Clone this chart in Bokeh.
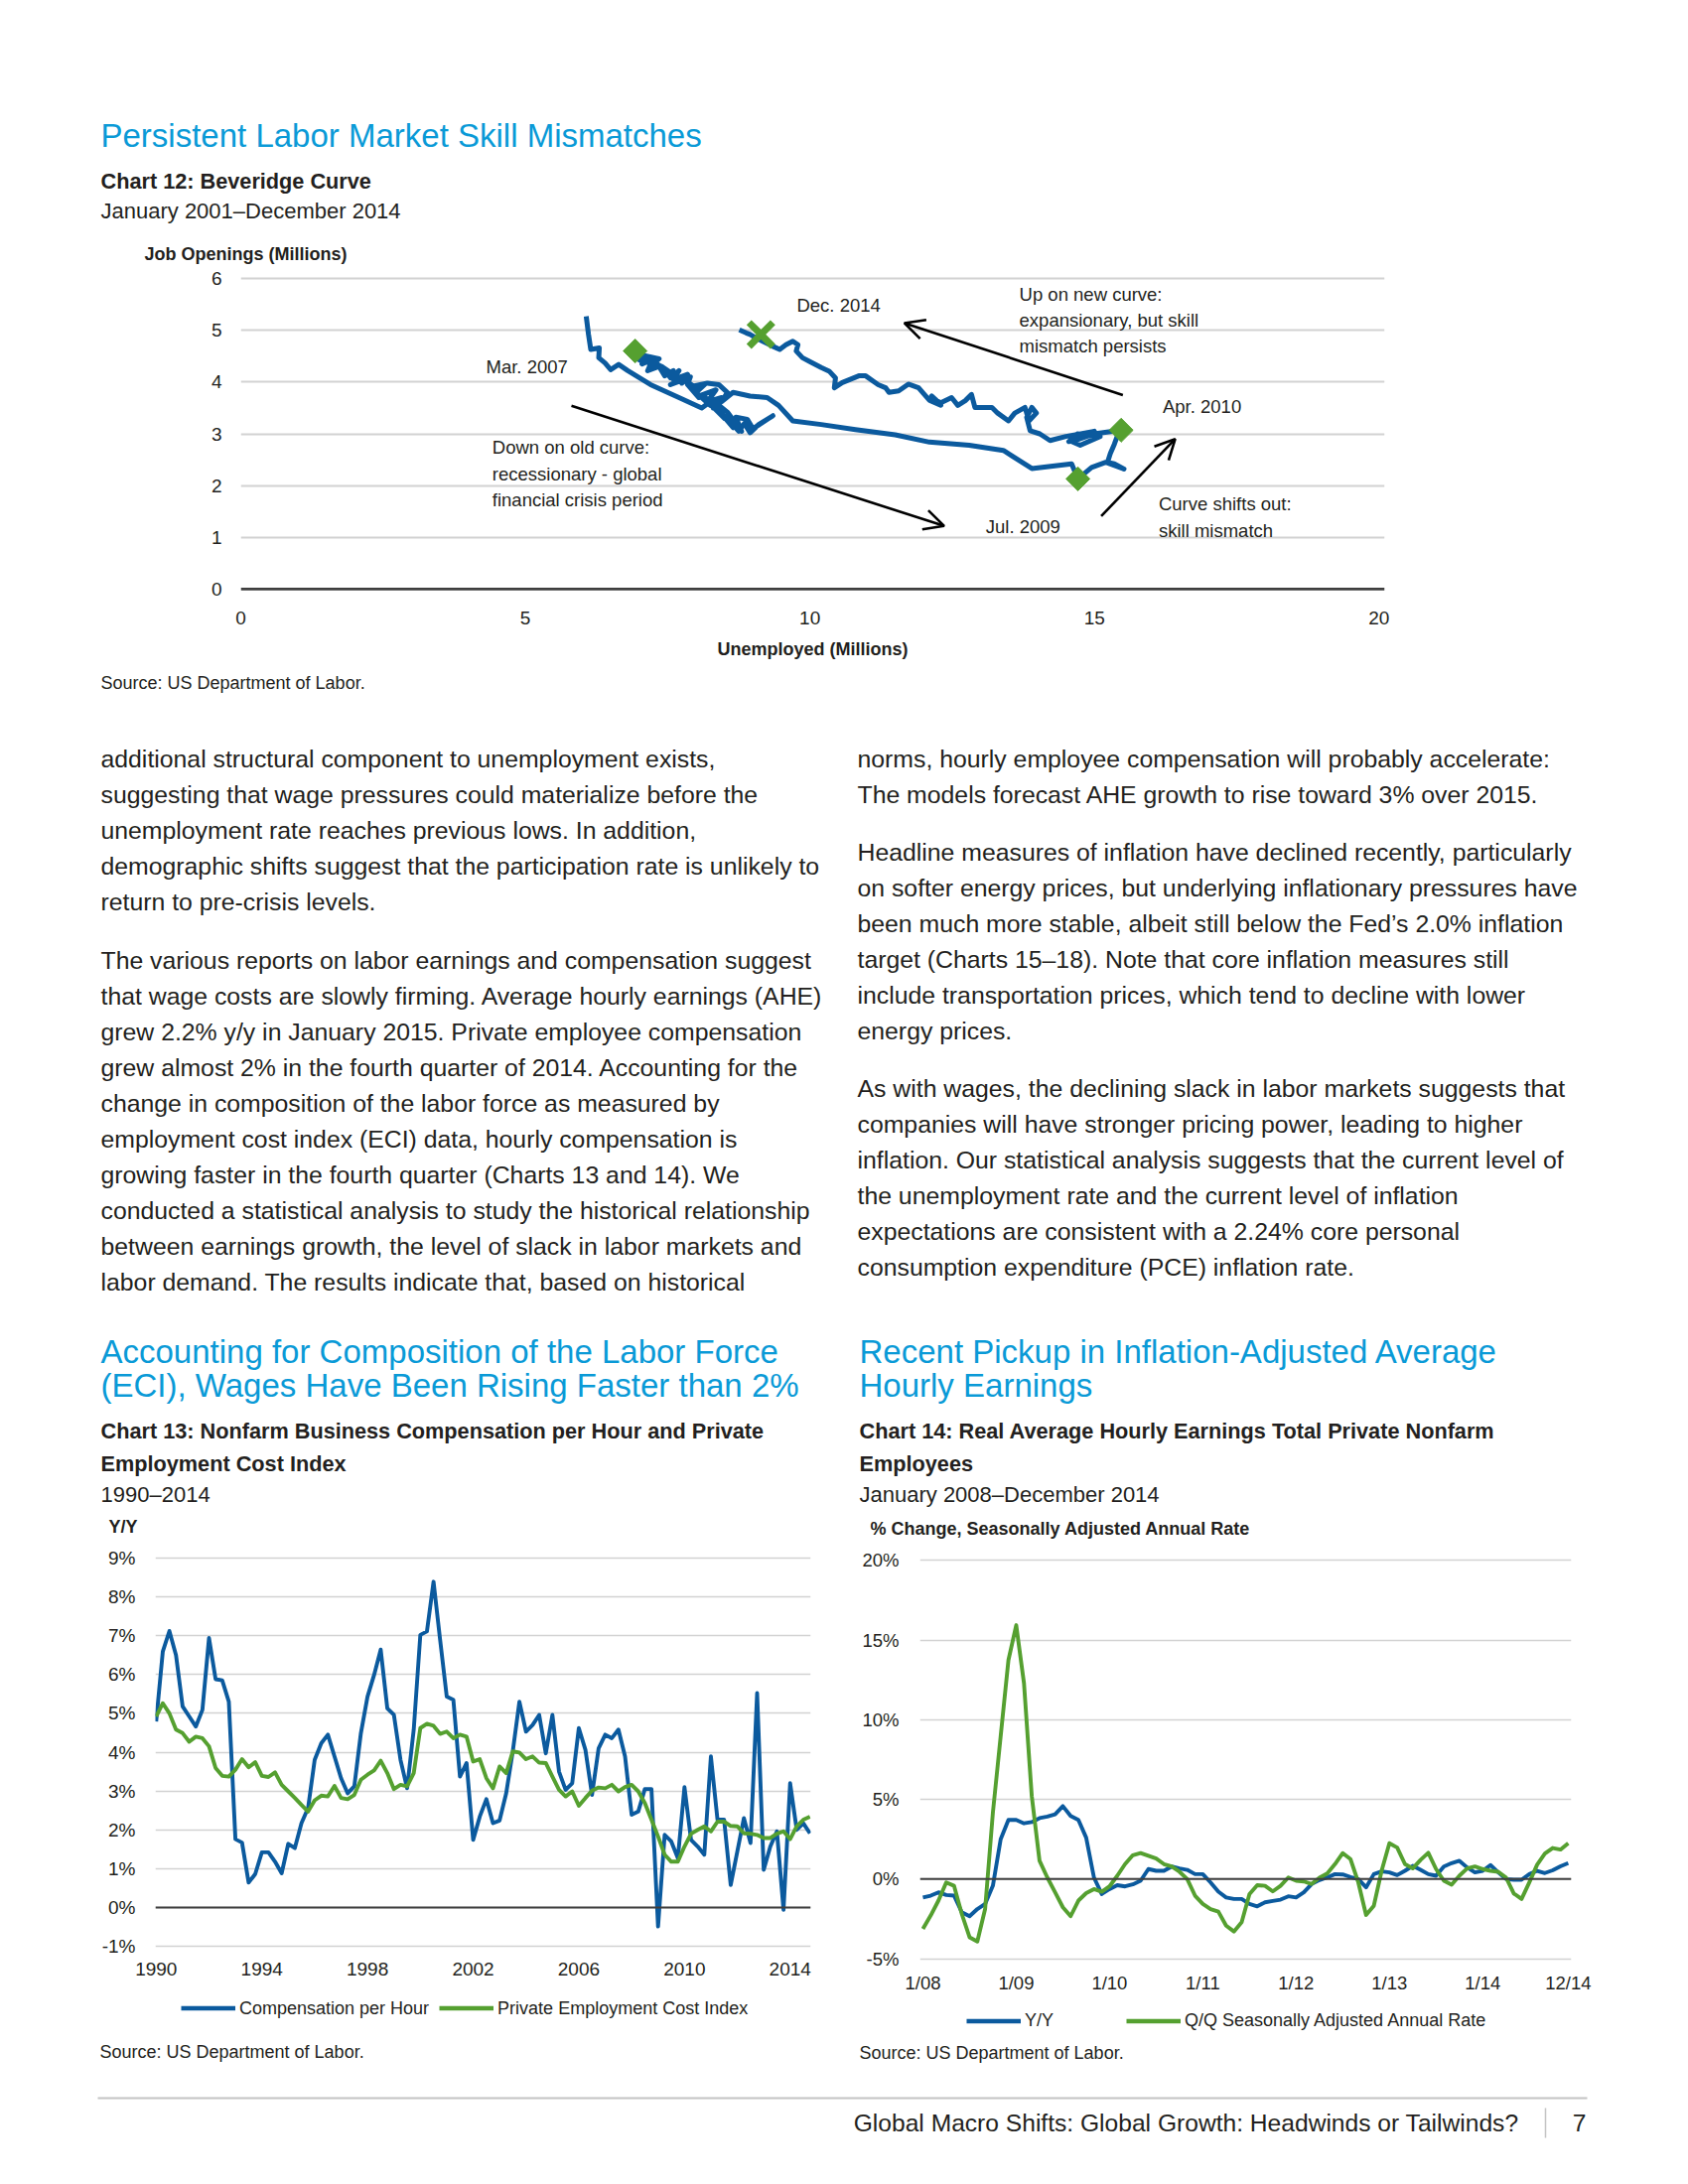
import numpy as np
from bokeh.plotting import figure
from bokeh.models import Range1d, FixedTicker, Span, Arrow, OpenHead, Legend, LegendItem, Spacer
from bokeh.layouts import column, row
from bokeh.embed import file_html
from bokeh.resources import INLINE
from bokeh.core.properties import value

# ---------------------------------------------------------------- data
# Chart 12: Beveridge curve, monthly Jan 2001 - Dec 2014 (millions)
bev_unemployed = [
    6.07, 6.11, 6.15, 6.30, 6.29, 6.40, 6.50, 6.64, 6.80, 7.20, 7.70, 8.10,      # 2001
    8.25, 8.10, 8.35, 8.45, 8.30, 8.50, 8.40, 8.20, 8.45, 8.60, 8.40, 8.65,      # 2002
    8.55, 8.75, 8.85, 8.95, 9.10, 9.35, 9.00, 8.90, 8.70, 8.80, 8.55, 8.40,      # 2003
    8.30, 8.45, 8.20, 8.35, 8.10, 8.25, 8.00, 8.15, 7.95, 8.05, 7.85, 7.90,      # 2004
    7.75, 7.85, 7.60, 7.70, 7.55, 7.45, 7.60, 7.40, 7.50, 7.30, 7.45, 7.25,      # 2005
    7.20, 7.35, 7.05, 7.15, 6.95, 7.10, 7.05, 7.20, 7.00, 6.90, 7.05, 6.95,      # 2006
    7.05, 6.98, 6.93, 7.05, 7.20, 7.15, 7.35, 7.45, 7.60, 7.70, 7.55, 7.80,      # 2007
    7.95, 8.20, 8.40, 8.55, 8.45, 8.65, 8.95, 9.25, 9.45, 9.70, 10.20, 10.80,    # 2008
    11.50, 12.10, 12.80, 13.40, 13.90, 14.60, 14.71, 14.95, 15.20, 15.52, 15.35, 15.23,  # 2009
    15.28, 15.35, 15.40, 15.47, 15.00, 14.60, 14.75, 15.10, 14.70, 14.55, 15.00, 14.50,  # 2010
    14.22, 14.04, 13.87, 13.81, 13.90, 13.98, 13.85, 13.78, 13.60, 13.49, 13.30, 13.20,  # 2011
    12.90, 12.84, 12.73, 12.60, 12.49, 12.30, 12.23, 12.14, 12.30, 12.10, 11.91, 11.73,  # 2012
    11.56, 11.39, 11.33, 11.20, 10.98, 10.86, 10.57, 10.43, 10.45, 10.34, 10.20, 9.99,   # 2013
    9.87, 9.76, 9.79, 9.70, 9.58, 9.47, 9.35, 9.17, 9.06, 8.95, 8.88, 8.76,              # 2014
]
bev_openings = [
    5.27, 4.92, 4.63, 4.66, 4.47, 4.37, 4.24, 4.34, 4.22, 3.95, 3.70, 3.50,
    3.62, 3.75, 3.55, 3.40, 3.52, 3.30, 3.48, 3.62, 3.38, 3.22, 3.45, 3.12,
    3.30, 3.05, 3.20, 3.02, 3.18, 3.35, 3.10, 3.28, 3.32, 3.05, 3.42, 3.55,
    3.50, 3.70, 3.62, 3.85, 3.75, 3.55, 3.80, 3.95, 3.85, 3.70, 3.95, 4.10,
    3.98, 4.15, 4.05, 4.22, 4.08, 4.25, 4.15, 4.30, 4.18, 4.35, 4.25, 4.40,
    4.30, 4.45, 4.52, 4.40, 4.55, 4.45, 4.35, 4.42, 4.55, 4.50, 4.40, 4.58,
    4.52, 4.48, 4.60, 4.45, 4.35, 4.22, 4.30, 4.12, 4.22, 4.02, 3.95, 4.05,
    3.92, 3.98, 3.95, 3.80, 3.62, 3.80, 3.73, 3.70, 3.55, 3.25, 3.18, 3.08,
    2.98, 2.84, 2.78, 2.68, 2.33, 2.42, 2.13, 2.35, 2.45, 2.32, 2.42, 2.45,
    2.62, 2.80, 2.95, 3.07, 3.00, 2.85, 2.78, 2.95, 3.00, 2.85, 3.05, 2.95,
    2.87, 3.00, 3.06, 3.32, 3.51, 3.40, 3.25, 3.51, 3.40, 3.25, 3.40, 3.51,
    3.51, 3.76, 3.64, 3.55, 3.70, 3.60, 3.64, 3.73, 3.55, 3.65, 3.89, 3.96,
    3.83, 3.80, 3.89, 3.95, 4.12, 4.12, 3.99, 3.89, 4.08, 4.21, 4.28, 4.40,
    4.47, 4.60, 4.72, 4.79, 4.72, 4.63, 4.69, 4.79, 4.85, 4.92, 4.95, 5.01,
]
bev_marker_labels = ["Mar. 2007", "Jul. 2009", "Apr. 2010"]
bev_marker_index = [74, 102, 111]
dec14_unemployed = [9.14]
dec14_openings = [4.92]
bev_xticks = [0, 5, 10, 15, 20]
bev_yticks = [0, 1, 2, 3, 4, 5, 6]

# Chart 13: quarterly 1990Q1 - 2014Q4, % y/y
c13_years = list(range(1990, 2015))
comp_per_hour = [
    4.79, 6.59, 7.12, 6.50, 5.18, 4.92, 4.66, 5.09, 6.94, 5.88, 5.85, 5.30,
    1.76, 1.67, 0.64, 0.86, 1.42, 1.42, 1.18, 0.88, 1.64, 1.53, 2.17, 2.56,
    3.80, 4.23, 4.45, 3.89, 3.33, 2.94, 3.12, 4.49, 5.43, 5.99, 6.64, 5.13,
    4.96, 3.80, 3.07, 4.58, 7.02, 7.11, 8.39, 6.89, 5.43, 5.35, 3.37, 3.72,
    1.74, 2.34, 2.79, 2.17, 2.24, 2.94, 4.02, 5.30, 4.53, 4.70, 4.96, 3.97,
    4.96, 3.50, 3.03, 3.20, 4.62, 4.06, 2.90, 4.10, 4.45, 4.36, 4.58, 3.89,
    2.39, 2.47, 3.05, 3.05, -0.49, 1.87, 1.70, 1.27, 3.10, 1.74, 1.57, 1.36,
    3.89, 2.26, 2.26, 0.58, 1.44, 2.30, 1.66, 5.52, 0.97, 1.57, 1.96, -0.06,
    3.20, 2.00, 2.17, 1.91,
]
private_eci = [
    4.92, 5.26, 5.00, 4.58, 4.49, 4.27, 4.40, 4.36, 4.15, 3.59, 3.39, 3.37,
    3.55, 3.82, 3.61, 3.74, 3.39, 3.36, 3.48, 3.16, 2.99, 2.82, 2.64, 2.47,
    2.76, 2.88, 2.86, 3.13, 2.82, 2.79, 2.90, 3.29, 3.42, 3.53, 3.78, 3.46,
    3.05, 3.16, 3.12, 3.46, 4.62, 4.73, 4.68, 4.47, 4.53, 4.36, 4.45, 4.40,
    3.76, 3.82, 3.33, 3.07, 3.63, 3.46, 4.02, 3.99, 3.82, 3.89, 3.73, 3.72,
    3.37, 3.03, 2.86, 2.99, 2.62, 2.82, 3.01, 3.09, 3.07, 3.16, 2.99, 3.10,
    3.16, 2.99, 2.69, 2.26, 1.83, 1.36, 1.18, 1.18, 1.57, 1.90, 2.00, 2.09,
    1.96, 2.21, 2.21, 2.10, 2.09, 1.91, 1.90, 1.87, 1.79, 1.79, 1.90, 1.96,
    1.76, 2.09, 2.26, 2.34,
]
c13_xticks = [1990, 1994, 1998, 2002, 2006, 2010, 2014]
c13_yticks = [-1, 0, 1, 2, 3, 4, 5, 6, 7, 8, 9]
c13_ylabels = ["-1%", "0%", "1%", "2%", "3%", "4%", "5%", "6%", "7%", "8%", "9%"]
c13_series = ["Compensation per Hour", "Private Employment Cost Index"]

# Chart 14: monthly Jan 2008 - Dec 2014, %
ahe_yy = [
    -1.15, -1.04, -0.83, -1.00, -1.04, -2.08, -2.33, -1.88, -1.56, -0.42, 2.50, 3.71,
    3.71, 3.50, 3.58, 3.83, 3.92, 4.06, 4.58, 3.96, 3.71, 2.60, 0.10, -0.94,
    -0.63, -0.38, -0.46, -0.33, -0.10, 0.63, 0.52, 0.52, 0.79, 0.67, 0.58, 0.31,
    0.31, -0.21, -0.79, -1.15, -1.25, -1.25, -1.56, -1.71, -1.46, -1.37, -1.29, -1.08,
    -1.15, -0.83, -0.31, -0.06, 0.10, 0.31, 0.29, 0.13, 0.00, -0.52, 0.31, 0.48,
    0.42, 0.25, 0.52, 0.83, 0.58, 0.31, 0.21, 0.79, 1.00, 1.15, 0.73, 0.42,
    0.52, 0.88, 0.42, 0.00, -0.04, -0.04, 0.31, 0.52, 0.38, 0.55, 0.80, 1.00,
]
ahe_qq_saar = [
    -3.13, -2.29, -1.35, -0.21, -0.42, -2.19, -3.65, -3.92, -1.88, 4.17, 8.96, 13.75,
    15.94, 12.29, 5.21, 1.15, 0.10, -0.83, -1.77, -2.33, -1.35, -0.88, -0.63, -0.79,
    -0.46, 0.21, 0.94, 1.50, 1.63, 1.46, 1.29, 0.94, 0.79, 0.46, 0.00, -1.04,
    -1.56, -1.88, -2.04, -2.92, -3.29, -2.71, -0.94, -0.38, -0.42, -0.77, -0.42, 0.10,
    -0.10, -0.15, -0.31, 0.08, 0.35, 0.94, 1.63, 1.25, -0.21, -2.25, -1.67, 0.52,
    2.25, 1.98, 0.94, 0.67, 1.20, 1.65, 0.63, -0.10, -0.35, 0.21, 0.67, 0.79,
    0.63, 0.52, 0.46, 0.10, -0.90, -1.25, -0.20, 0.90, 1.60, 1.95, 1.85, 2.25,
]
c14_xticks = [0, 12, 24, 36, 48, 60, 72, 83]
c14_xlabels = ["1/08", "1/09", "1/10", "1/11", "1/12", "1/13", "1/14", "12/14"]
c14_yticks = [-5, 0, 5, 10, 15, 20]
c14_ylabels = ["-5%", "0%", "5%", "10%", "15%", "20%"]
c14_series = ["Y/Y", "Q/Q Seasonally Adjusted Annual Rate"]

# ---------------------------------------------------------------- text
left_p1 = [
    "additional structural component to unemployment exists,",
    "suggesting that wage pressures could materialize before the",
    "unemployment rate reaches previous lows. In addition,",
    "demographic shifts suggest that the participation rate is unlikely to",
    "return to pre-crisis levels.",
]
left_p2 = [
    "The various reports on labor earnings and compensation suggest",
    "that wage costs are slowly firming. Average hourly earnings (AHE)",
    "grew 2.2% y/y in January 2015. Private employee compensation",
    "grew almost 2% in the fourth quarter of 2014. Accounting for the",
    "change in composition of the labor force as measured by",
    "employment cost index (ECI) data, hourly compensation is",
    "growing faster in the fourth quarter (Charts 13 and 14). We",
    "conducted a statistical analysis to study the historical relationship",
    "between earnings growth, the level of slack in labor markets and",
    "labor demand. The results indicate that, based on historical",
]
right_p1 = [
    "norms, hourly employee compensation will probably accelerate:",
    "The models forecast AHE growth to rise toward 3% over 2015.",
]
right_p2 = [
    "Headline measures of inflation have declined recently, particularly",
    "on softer energy prices, but underlying inflationary pressures have",
    "been much more stable, albeit still below the Fed\u2019s 2.0% inflation",
    "target (Charts 15\u201318). Note that core inflation measures still",
    "include transportation prices, which tend to decline with lower",
    "energy prices.",
]
right_p3 = [
    "As with wages, the declining slack in labor markets suggests that",
    "companies will have stronger pricing power, leading to higher",
    "inflation. Our statistical analysis suggests that the current level of",
    "the unemployment rate and the current level of inflation",
    "expectations are consistent with a 2.24% core personal",
    "consumption expenditure (PCE) inflation rate.",
]

# ---------------------------------------------------------------- style
FONT = "Liberation Sans"
TXT = "#231f20"
HEAD = "#0a9ad7"
BLUE = "#0b5a9e"
GREEN = "#55a030"
GRID = "#d2d2d2"
ZERO = "#3f3f3f"
PAGE_W = 1684


def text_fig(top, height):
    f = figure(width=PAGE_W, height=height, x_range=Range1d(0, PAGE_W),
               y_range=Range1d(top + height, top), toolbar_location=None,
               output_backend="svg", min_border=0,
               x_axis_location=None, y_axis_location=None)
    f.grid.visible = False
    f.outline_line_color = None
    return f


def put(f, xs, ys, texts, size, color=TXT, bold=False, align="left"):
    f.text(x=xs, y=ys, text=texts, text_font=value(FONT), text_font_size=size,
           text_color=color, text_font_style="bold" if bold else "normal",
           text_align=align, text_baseline="middle")


def style_axes(p, size="18px"):
    for ax in (p.xaxis, p.yaxis):
        ax.axis_line_color = None
        ax.major_tick_line_color = None
        ax.minor_tick_line_color = None
        ax.major_tick_out = 0
        ax.major_tick_in = 0
        ax.major_label_text_font = FONT
        ax.major_label_text_font_size = size
        ax.major_label_text_color = TXT
    p.outline_line_color = None
    p.xgrid.visible = False
    p.ygrid.grid_line_color = GRID
    p.ygrid.grid_line_width = 1.6


def legend_fig(width, height, border_left, border_right, labels, offset, spacing):
    # a strip that holds the chart's legend just below its axis labels
    lf = figure(width=width, height=height, x_range=Range1d(0, 1), y_range=Range1d(0, 1),
                min_border_left=border_left, min_border_right=border_right,
                min_border_top=0, min_border_bottom=0, x_axis_location=None,
                y_axis_location=None, toolbar_location=None, output_backend="svg")
    lf.grid.visible = False
    lf.outline_line_color = None
    # legend keys (kept outside the strip's visible range)
    ra = lf.line(x=[-5, -4], y=[-5, -5], line_color=BLUE, line_width=4.6)
    rb = lf.line(x=[-5, -4], y=[-5, -5], line_color=GREEN, line_width=4.6)
    leg = Legend(items=[LegendItem(label=labels[0], renderers=[ra]),
                        LegendItem(label=labels[1], renderers=[rb])],
                 orientation="horizontal", location="center_left", border_line_color=None,
                 background_fill_alpha=0, label_text_font=FONT, label_text_font_size="18px",
                 label_text_color=TXT, glyph_width=55, glyph_height=20, label_standoff=4,
                 spacing=spacing, padding=2, margin=offset)
    lf.add_layout(leg)
    return lf


# ---------------------------------------------------------------- A: header
figA = text_fig(0, 270)
put(figA, [101], [136], ["Persistent Labor Market Skill Mismatches"], "33px", color=HEAD)
put(figA, [101], [182], ["Chart 12: Beveridge Curve"], "21.7px", bold=True)
put(figA, [101], [212], ["January 2001\u2013December 2014"], "22px")
put(figA, [145], [255], ["Job Openings (Millions)"], "18px", bold=True)

# ---------------------------------------------------------------- chart 12
p12 = figure(width=PAGE_W, height=402, x_range=Range1d(0, 20.1), y_range=Range1d(-0.04, 6.04),
             min_border_left=242, min_border_right=290, min_border_top=8, min_border_bottom=77,
             toolbar_location=None, output_backend="svg")
style_axes(p12, "19px")
p12.xaxis.ticker = FixedTicker(ticks=bev_xticks)
p12.yaxis.ticker = FixedTicker(ticks=bev_yticks)
p12.ygrid.ticker = FixedTicker(ticks=bev_yticks[1:])
p12.ygrid.grid_line_width = 2
p12.yaxis.major_label_standoff = 19
p12.xaxis.major_label_standoff = 20
p12.xaxis.axis_label = "Unemployed (Millions)"
p12.xaxis.axis_label_text_font = FONT
p12.xaxis.axis_label_text_font_size = "18px"
p12.xaxis.axis_label_text_font_style = "bold"
p12.xaxis.axis_label_text_color = TXT
p12.xaxis.axis_label_standoff = 12
p12.add_layout(Span(location=0, dimension="width", line_color=ZERO, line_width=2.6))

p12.line(bev_unemployed, bev_openings, line_color=BLUE, line_width=5, line_join="round")
mk_u = [bev_unemployed[i] for i in bev_marker_index]
mk_v = [bev_openings[i] for i in bev_marker_index]
p12.scatter(mk_u, mk_v, marker="square", angle=np.pi / 4, size=17, fill_color=GREEN,
            line_color=GREEN)
p12.scatter(dec14_unemployed, dec14_openings, marker="x", size=34, line_color=GREEN, line_width=7)

ann_x = [9.77, 13.68, 13.68, 13.68, 4.31, 16.2, 4.42, 4.42, 4.42, 13.09, 16.13, 16.13]
ann_y = [5.48, 5.70, 5.20, 4.70, 4.30, 3.53, 2.74, 2.23, 1.72, 1.20, 1.65, 1.13]
ann_t = ["Dec. 2014", "Up on new curve:", "expansionary, but skill", "mismatch persists",
         "Mar. 2007", "Apr. 2010", "Down on old curve:", "recessionary - global",
         "financial crisis period", "Jul. 2009", "Curve shifts out:", "skill mismatch"]
p12.text(x=ann_x, y=ann_y, text=ann_t, text_font=value(FONT), text_font_size="18.5px",
         text_color=TXT, text_baseline="middle", text_align="left")

arrows = [((5.81, 3.54), (12.36, 1.22)), ((15.50, 3.75), (11.66, 5.14)), ((15.12, 1.41), (16.42, 2.90))]
for (xs, ys), (xe, ye) in arrows:
    p12.add_layout(Arrow(end=OpenHead(size=20, line_width=2.6, line_color="black"),
                         x_start=xs, y_start=ys, x_end=xe, y_end=ye,
                         line_width=2.6, line_color="black"))

# ---------------------------------------------------------------- B: body text
figB = text_fig(672, 878)
put(figB, [101], [687], ["Source: US Department of Labor."], "18px")
BODY = "24.8px"
put(figB, [101] * len(left_p1), [764 + 36 * i for i in range(len(left_p1))], left_p1, BODY)
put(figB, [101] * len(left_p2), [967 + 36 * i for i in range(len(left_p2))], left_p2, BODY)
put(figB, [863] * len(right_p1), [764 + 36 * i for i in range(len(right_p1))], right_p1, BODY)
put(figB, [863] * len(right_p2), [858 + 36 * i for i in range(len(right_p2))], right_p2, BODY)
put(figB, [863] * len(right_p3), [1096 + 36 * i for i in range(len(right_p3))], right_p3, BODY)

put(figB, [101, 101], [1361, 1395], ["Accounting for Composition of the Labor Force",
                                       "(ECI), Wages Have Been Rising Faster than 2%"], "33px", color=HEAD)
put(figB, [865, 865], [1361, 1395], ["Recent Pickup in Inflation-Adjusted Average",
                                       "Hourly Earnings"], "33px", color=HEAD)
put(figB, [101, 101], [1441, 1474], ["Chart 13: Nonfarm Business Compensation per Hour and Private",
                                       "Employment Cost Index"], "21.7px", bold=True)
put(figB, [865, 865], [1441, 1474], ["Chart 14: Real Average Hourly Earnings Total Private Nonfarm",
                                       "Employees"], "21.7px", bold=True)
put(figB, [101], [1505], ["1990\u20132014"], "22px")
put(figB, [865], [1505], ["January 2008\u2013December 2014"], "22px")
put(figB, [109], [1537], ["Y/Y"], "18px", bold=True)
put(figB, [876], [1539], ["% Change, Seasonally Adjusted Annual Rate"], "18px", bold=True)

# ---------------------------------------------------------------- chart 13
c13_x = [y + q * 0.25 for y in c13_years for q in range(4)]
p13 = figure(width=842, height=458, x_range=Range1d(1989.97, 2014.78), y_range=Range1d(-1.05, 9.05),
             min_border_left=156, min_border_right=26, min_border_top=17, min_border_bottom=46,
             toolbar_location=None, output_backend="svg")
style_axes(p13, "19px")
p13.xaxis.ticker = FixedTicker(ticks=c13_xticks)
p13.yaxis.ticker = FixedTicker(ticks=c13_yticks)
p13.ygrid.ticker = FixedTicker(ticks=c13_yticks)
p13.yaxis.major_label_overrides = {t: l for t, l in zip(c13_yticks, c13_ylabels)}
p13.yaxis.major_label_standoff = 20
p13.xaxis.major_label_standoff = 14
p13.add_layout(Span(location=0, dimension="width", line_color=ZERO, line_width=2))
p13.line(c13_x, comp_per_hour, line_color=BLUE, line_width=3.9, line_join="round")
p13.line(c13_x, private_eci, line_color=GREEN, line_width=3.9, line_join="round")
leg13 = legend_fig(842, 29, 156, 26, c13_series, 26, 10)

# ---------------------------------------------------------------- chart 14
c14_x = list(range(len(ahe_yy)))
p14 = figure(width=842, height=470, x_range=Range1d(-0.38, 83.4), y_range=Range1d(-5.15, 20.15),
             min_border_left=84, min_border_right=102, min_border_top=19, min_border_bottom=45,
             toolbar_location=None, output_backend="svg")
style_axes(p14, "18.5px")
p14.xaxis.ticker = FixedTicker(ticks=c14_xticks)
p14.xaxis.major_label_overrides = {t: l for t, l in zip(c14_xticks, c14_xlabels)}
p14.yaxis.ticker = FixedTicker(ticks=c14_yticks)
p14.ygrid.ticker = FixedTicker(ticks=c14_yticks)
p14.yaxis.major_label_overrides = {t: l for t, l in zip(c14_yticks, c14_ylabels)}
p14.yaxis.major_label_standoff = 21
p14.xaxis.major_label_standoff = 11
p14.add_layout(Span(location=0, dimension="width", line_color=ZERO, line_width=2))
p14.line(c14_x, ahe_yy, line_color=BLUE, line_width=3.9, line_join="round")
p14.line(c14_x, ahe_qq_saar, line_color=GREEN, line_width=3.9, line_join="round")
leg14 = legend_fig(842, 30, 84, 102, c14_series, 47, 73)

# ---------------------------------------------------------------- D: footer
figD = text_fig(2050, 134)
put(figD, [100, 865], [2066, 2067], ["Source: US Department of Labor.", "Source: US Department of Labor."], "18px")
figD.segment(x0=[98], y0=[2113], x1=[1598], y1=[2113], line_color="#c4c4c4", line_width=2)
figD.segment(x0=[1556], y0=[2123], x1=[1556], y1=[2153], line_color="#c4c4c4", line_width=1.5)
put(figD, [1529], [2138], ["Global Macro Shifts: Global Growth: Headwinds or Tailwinds?"], "24.6px", align="right")
put(figD, [1590], [2138], ["7"], "24.6px", align="center")

bottom = row(column(p13, leg13, Spacer(width=842, height=13)), column(p14, leg14))
layout = column(row(figA), row(p12), row(figB), bottom, row(figD))
open("out.html", "w").write(file_html(layout, INLINE, title="Global Macro Shifts"))
